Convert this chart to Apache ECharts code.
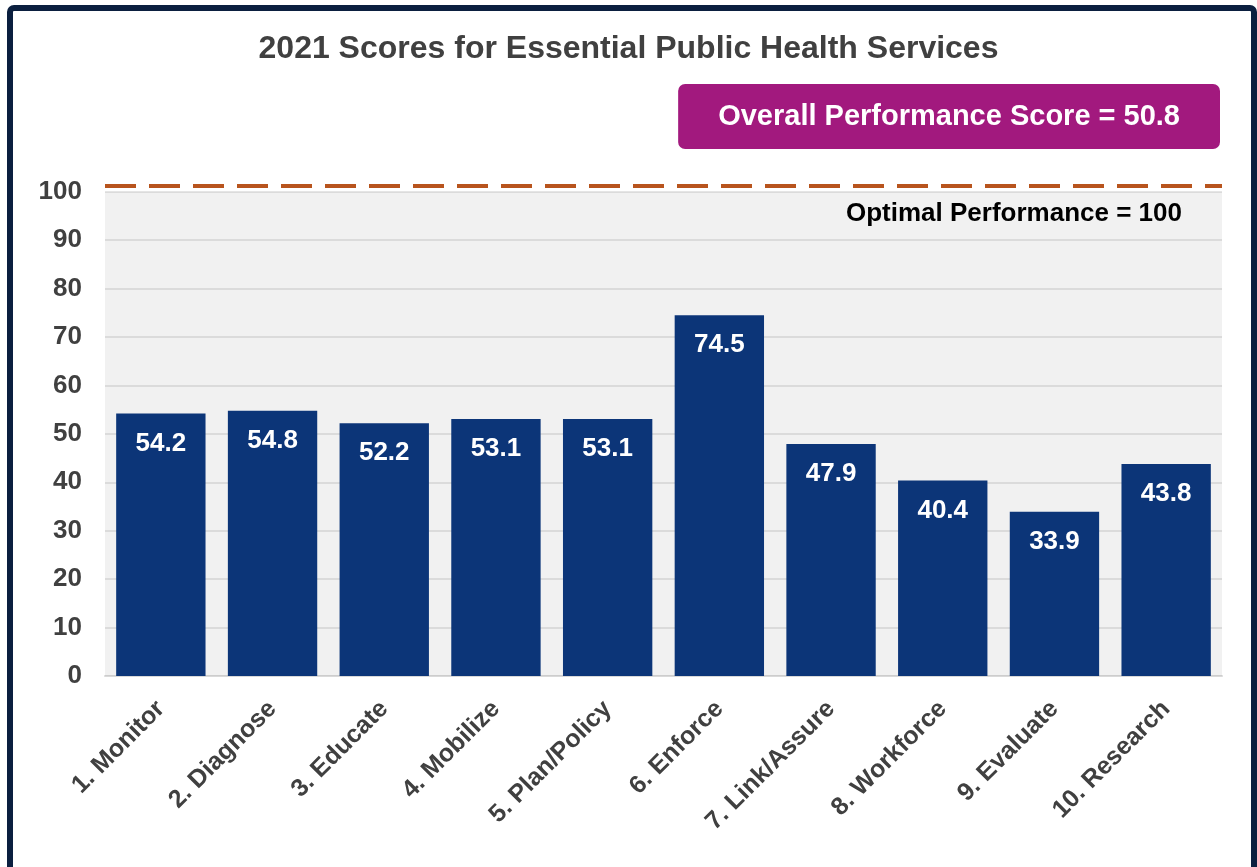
<!DOCTYPE html>
<html>
<head>
<meta charset="utf-8">
<script src="https://cdn.jsdelivr.net/npm/echarts@6/dist/echarts.min.js"></script>
<style>
  html, body { margin: 0; padding: 0; background: #fff; }
  #chart { width: 1257px; height: 867px; }
</style>
</head>
<body>
<div id="chart"></div>
<script>
// data
const categories = ['1. Monitor', '2. Diagnose', '3. Educate', '4. Mobilize', '5. Plan/Policy',
    '6. Enforce', '7. Link/Assure', '8. Workforce', '9. Evaluate', '10. Research'];
const scores = [54.2, 54.8, 52.2, 53.1, 53.1, 74.5, 47.9, 40.4, 33.9, 43.8];
const overallScore = 50.8;
const optimalScore = 100;
// the dashed optimal line sits a little above the 100 gridline
const optimalLineAt = 101.2;
const yTicks = [0, 10, 20, 30, 40, 50, 60, 70, 80, 90, 100];

const font = '"Liberation Sans", Arial, sans-serif';

const chart = echarts.init(document.getElementById('chart'));
const option = {
    animation: false,
    textStyle: {fontFamily: font},
    title: [
        {
            text: '2021 Scores for Essential Public Health Services',
            left: 'center',
            top: 28,
            textStyle: {color: '#404040', fontSize: 32, fontWeight: 'bold', fontFamily: font},
        },
        {
            text: 'Overall Performance Score = ' + overallScore,
            right: 37,
            top: 84,
            backgroundColor: '#a2197e',
            borderRadius: 7,
            padding: [18, 40, 18, 40],
            textStyle: {color: '#ffffff', fontSize: 29, fontWeight: 'bold', fontFamily: font},
        },
        {
            text: 'Optimal Performance = ' + optimalScore,
            right: 75,
            top: 201,
            padding: 0,
            textStyle: {color: '#000000', fontSize: 26, fontWeight: 'bold', fontFamily: font},
        },
    ],
    graphic: [
        {
            type: 'rect',
            shape: {x: 10, y: 8, width: 1244, height: 900, r: 4},
            style: {fill: null, stroke: '#0b1f3f', lineWidth: 6},
            silent: true,
        },
    ],
    grid: {
        left: 105,
        right: 35,
        top: 186,
        bottom: 191,
    },
    xAxis: {
        type: 'category',
        data: categories,
        axisTick: {show: false},
        axisLine: {show: true, lineStyle: {color: '#d9d9d9', width: 2}},
        axisLabel: {
            rotate: 45,
            margin: 29,
            interval: 0,
            color: '#404040',
            fontSize: 25,
            fontWeight: 'bold',
            fontFamily: font,
        },
    },
    yAxis: {
        type: 'value',
        min: yTicks[0],
        max: optimalLineAt,
        interval: 10,
        axisLine: {show: false},
        axisTick: {show: false},
        splitLine: {showMaxLine: false, lineStyle: {color: '#e8e8e8', width: 2}},
        axisLabel: {
            margin: 23,
            showMaxLabel: false,
            color: '#404040',
            fontSize: 26,
            fontWeight: 'bold',
            fontFamily: font,
        },
    },
    series: [
        {
            type: 'bar',
            data: scores,
            barWidth: '80%',
            itemStyle: {color: '#0c3578'},
            label: {
                show: true,
                position: 'insideTop',
                distance: 17,
                color: '#ffffff',
                fontSize: 26,
                fontWeight: 'bold',
                fontFamily: font,
            },
            markArea: {
                silent: true,
                itemStyle: {color: 'rgba(0,0,0,0.055)'},
                data: [[{yAxis: yTicks[0]}, {yAxis: yTicks[yTicks.length - 1]}]],
            },
            markLine: {
                silent: true,
                symbol: 'none',
                label: {show: false},
                lineStyle: {color: '#b8541d', type: [31, 13], width: 4},
                data: [{yAxis: optimalLineAt}],
            },
        },
    ],
};
chart.setOption(option);
</script>
</body>
</html>
